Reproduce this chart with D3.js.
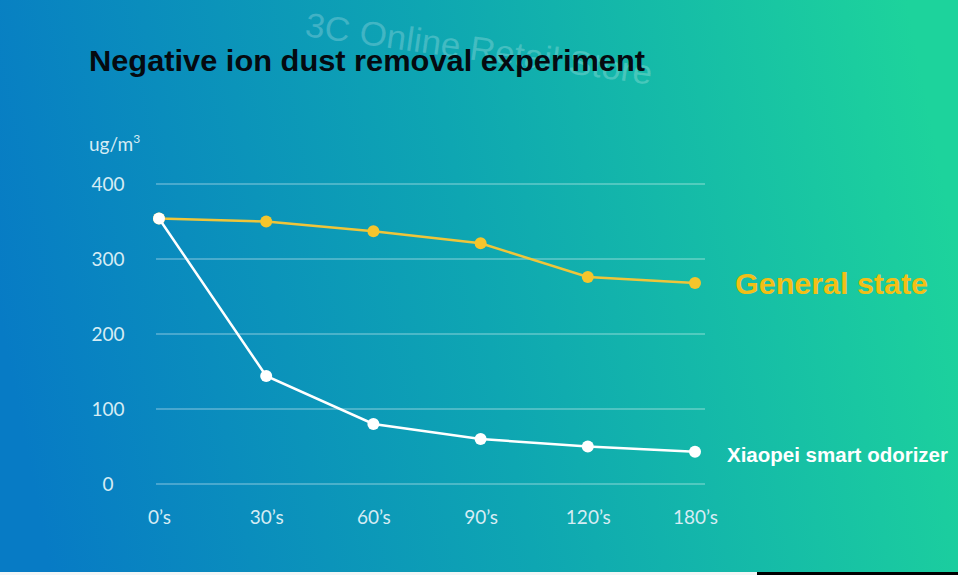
<!DOCTYPE html>
<html><head><meta charset="utf-8">
<script src="https://cdn.jsdelivr.net/npm/d3@7"></script>
<style>html,body{margin:0;padding:0;overflow:hidden;background:#fff}svg{display:block}</style>
</head><body>
<script>
const categories = ["0’s","30’s","60’s","90’s","120’s","180’s"];
const generalState = [354, 350, 337, 321, 276, 268];
const xiaopei = [354, 144, 80, 60, 50, 43];
const yTicks = [0, 100, 200, 300, 400];
const seriesNames = ["General state", "Xiaopei smart odorizer"];

const W = 958, H = 575;
const svg = d3.select("body").append("svg").attr("width", W).attr("height", H);
const defs = svg.append("defs");
const g1 = defs.append("linearGradient").attr("id","bg").attr("x1","0").attr("y1","0.56").attr("x2","1").attr("y2","0.44");
g1.append("stop").attr("offset","0%").attr("stop-color","#077bc5");
g1.append("stop").attr("offset","50%").attr("stop-color","#0ea6b2");
g1.append("stop").attr("offset","100%").attr("stop-color","#1dd39c");
svg.append("rect").attr("width",W).attr("height",H).attr("fill","url(#bg)");

// bottom edge strip
svg.append("rect").attr("x",0).attr("y",572).attr("width",757).attr("height",3).attr("fill","#f4f6f6");
svg.append("rect").attr("x",757).attr("y",572).attr("width",201).attr("height",3).attr("fill","#000");

// watermark
svg.append("text").attr("transform","translate(304,36) rotate(8)")
  .attr("font-family","Liberation Sans, Arial, sans-serif").attr("font-size",34)
  .attr("fill","#ffffff").attr("fill-opacity",0.22)
  .attr("textLength",350).attr("lengthAdjust","spacingAndGlyphs")
  .text("3C Online Retail Store");

// title
svg.append("text").attr("x",89).attr("y",71)
  .attr("font-family","Liberation Sans, Arial, sans-serif").attr("font-weight","bold")
  .attr("font-size",30).attr("fill","#050a10")
  .attr("textLength",556).attr("lengthAdjust","spacingAndGlyphs")
  .text("Negative ion dust removal experiment");

const x = d3.scalePoint().domain(categories).range([159, 695]);
const y = d3.scaleLinear().domain([0, 400]).range([484, 184]);

// grid
svg.append("g").selectAll("line").data(yTicks).join("line")
  .attr("x1",156).attr("x2",705).attr("y1",d=>y(d)).attr("y2",d=>y(d))
  .attr("stroke","#ffffff").attr("stroke-opacity",0.35).attr("stroke-width",1.5);

const labelFont = "Lato, Noto Sans, sans-serif";
const labelColor = "#d6ecf4";
// y axis labels
const yAxis = d3.axisLeft(y).tickValues(yTicks).tickSize(0).tickPadding(0);
const ya = svg.append("g").attr("transform","translate(108,0)").call(yAxis);
ya.select(".domain").remove();
ya.selectAll("text").attr("text-anchor","middle").attr("font-family",labelFont)
  .attr("font-size",19).attr("fill",labelColor).attr("dy","0.36em");

// unit
const unit = svg.append("text").attr("x",89).attr("y",151).attr("font-family",labelFont)
  .attr("font-size",19).attr("fill",labelColor);
unit.append("tspan").text("ug/m");
unit.append("tspan").attr("font-size",12).attr("dy",-8).text("3");

// x axis labels
const xAxis = d3.axisBottom(x).tickSize(0).tickPadding(0);
const xa = svg.append("g").attr("transform","translate(0,509)").call(xAxis);
xa.select(".domain").remove();
xa.selectAll("text").attr("font-family",labelFont).attr("font-size",19)
  .attr("fill",labelColor).attr("dy","0.8em");

const line = d3.line().x((d,i)=>x(categories[i])).y(d=>y(d));
const yellow = "#f5c52c";
// general state
svg.append("path").datum(generalState).attr("d",line).attr("fill","none")
  .attr("stroke","#efc53a").attr("stroke-width",2.5);
svg.append("g").selectAll("circle").data(generalState).join("circle")
  .attr("cx",(d,i)=>x(categories[i])).attr("cy",d=>y(d)).attr("r",6).attr("fill",yellow);
// xiaopei
svg.append("path").datum(xiaopei).attr("d",line).attr("fill","none")
  .attr("stroke","#ffffff").attr("stroke-width",2.5);
svg.append("g").selectAll("circle").data(xiaopei).join("circle")
  .attr("cx",(d,i)=>x(categories[i])).attr("cy",d=>y(d)).attr("r",6).attr("fill","#ffffff");

// series labels
svg.append("text").attr("x",735).attr("y",294)
  .attr("font-family","Liberation Sans, Arial, sans-serif").attr("font-weight","bold")
  .attr("font-size",29).attr("fill","#f3bf16")
  .attr("textLength",193).attr("lengthAdjust","spacingAndGlyphs")
  .text(seriesNames[0]);
svg.append("text").attr("x",727).attr("y",462)
  .attr("font-family","Liberation Sans, Arial, sans-serif").attr("font-weight","bold")
  .attr("font-size",20).attr("fill","#ffffff")
  .attr("textLength",221).attr("lengthAdjust","spacingAndGlyphs")
  .text(seriesNames[1]);
</script>
</body></html>
